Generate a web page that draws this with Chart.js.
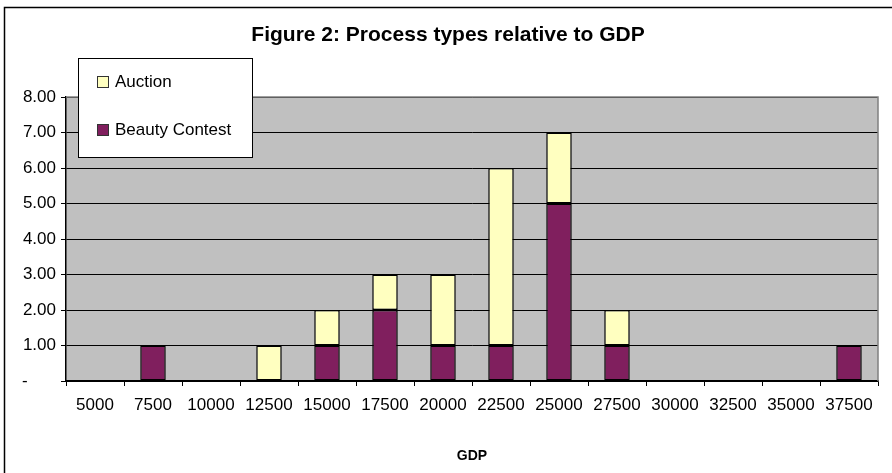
<!DOCTYPE html>
<html>
<head>
<meta charset="utf-8">
<script src="https://cdn.jsdelivr.net/npm/chart.js@4/dist/chart.umd.min.js"></script>
<style>
  html, body { margin: 0; padding: 0; background: #fff; }
  #wrap { width: 892px; height: 473px; position: relative; }
</style>
</head>
<body>
<div id="wrap"><canvas id="c" width="892" height="473"></canvas></div>
<script>
// GDP bands (category labels)
const gdpBands = ['5000', '7500', '10000', '12500', '15000', '17500', '20000',
                  '22500', '25000', '27500', '30000', '32500', '35000', '37500'];
// Number of processes of each type in every GDP band
const beautyContest = [0, 1, 0, 0, 1, 2, 1, 1, 5, 1, 0, 0, 0, 1];
const auction       = [0, 0, 0, 1, 1, 1, 2, 5, 2, 1, 0, 0, 0, 0];
// Value axis tick values
const yTicks = [0, 1, 2, 3, 4, 5, 6, 7, 8];

const chartTitle = 'Figure 2: Process types relative to GDP';
const FONT = '"Liberation Sans", Arial, sans-serif';

// Frame, plot background and title
const framePlugin = {
  id: 'frame',
  beforeDraw(chart) {
    const ctx = chart.ctx, a = chart.chartArea;
    ctx.save();
    ctx.fillStyle = '#ffffff';
    ctx.fillRect(0, 0, chart.width, chart.height);
    ctx.strokeStyle = '#000';
    ctx.lineWidth = 1.5;
    ctx.strokeRect(4.5, 7.5, chart.width + 20, chart.height + 20);
    ctx.fillStyle = '#c0c0c0';
    ctx.fillRect(a.left, a.top, a.right - a.left, a.bottom - a.top);
    ctx.fillStyle = '#000';
    ctx.font = 'bold 21px ' + FONT;
    ctx.textAlign = 'center';
    ctx.textBaseline = 'middle';
    ctx.fillText(chartTitle, 448, 35);
    ctx.restore();
  },
  afterDatasetsDraw(chart) {
    const ctx = chart.ctx, a = chart.chartArea;
    ctx.save();
    ctx.strokeStyle = '#808080';
    ctx.lineWidth = 1.5;
    ctx.beginPath();
    ctx.moveTo(a.left, a.top);
    ctx.lineTo(a.right, a.top);
    ctx.lineTo(a.right, a.bottom);
    ctx.stroke();
    ctx.restore();
  }
};

// Boxed legend, top entry = top series of the stack
const boxLegend = {
  id: 'boxLegend',
  afterDraw(chart) {
    const ctx = chart.ctx;
    const x0 = 78, y0 = 58, w = 174, h = 99;
    ctx.save();
    ctx.fillStyle = '#fff';
    ctx.fillRect(x0, y0, w, h);
    ctx.strokeStyle = '#000';
    ctx.lineWidth = 1;
    ctx.strokeRect(x0 + 0.5, y0 + 0.5, w, h);
    const ds = chart.data.datasets.slice().reverse();
    ctx.font = '17px ' + FONT;
    ctx.textBaseline = 'middle';
    ctx.textAlign = 'left';
    ds.forEach((d, i) => {
      const cy = 82 + i * 48;
      ctx.fillStyle = d.backgroundColor;
      ctx.fillRect(98, cy - 5, 10, 10);
      ctx.strokeStyle = '#333';
      ctx.strokeRect(97.5, cy - 5.5, 11, 11);
      ctx.fillStyle = '#000';
      ctx.fillText(d.label, 115, cy);
    });
    ctx.restore();
  }
};

// empty segments get no outline
const segBorder = c => (c.raw ? 1.5 : 0);

new Chart(document.getElementById('c'), {
  type: 'bar',
  data: {
    labels: gdpBands,
    datasets: [
      {
        label: 'Beauty Contest',
        data: beautyContest,
        backgroundColor: '#801f5e',
        borderColor: '#000',
        borderWidth: segBorder,
        borderSkipped: false,
        categoryPercentage: 1.0,
        barPercentage: 0.44
      },
      {
        label: 'Auction',
        data: auction,
        backgroundColor: '#ffffc0',
        borderColor: '#000',
        borderWidth: segBorder,
        borderSkipped: false,
        categoryPercentage: 1.0,
        barPercentage: 0.44
      }
    ]
  },
  options: {
    responsive: false,
    animation: false,
    events: [],
    layout: { padding: { top: 97, right: 14, left: 0, bottom: 0 } },
    plugins: {
      legend: { display: false },
      title: { display: false },
      tooltip: { enabled: false }
    },
    scales: {
      x: {
        stacked: true,
        grid: {
          display: true,
          offset: true,
          drawOnChartArea: false,
          drawTicks: true,
          tickLength: 5,
          color: '#000',
          lineWidth: 1
        },
        border: { display: true, color: '#000', width: 1.5 },
        ticks: {
          color: '#000',
          font: { family: FONT, size: 17 },
          padding: 9,
          maxRotation: 0,
          autoSkip: false
        },
        title: {
          display: true,
          text: 'GDP',
          color: '#000',
          font: { family: FONT, size: 14, weight: 'bold' },
          padding: { top: 0, bottom: 8 }
        },
        afterFit(s) { s.height = 92; }
      },
      y: {
        stacked: true,
        min: yTicks[0],
        max: yTicks[yTicks.length - 1],
        afterBuildTicks(s) { s.ticks = yTicks.map(v => ({ value: v })); },
        grid: {
          color: '#000',
          lineWidth: 1,
          drawTicks: true,
          tickLength: 5
        },
        border: { display: true, color: '#000', width: 1.5 },
        ticks: {
          color: '#000',
          font: { family: FONT, size: 17 },
          padding: 5,
          callback(v) { return v === 0 ? '-      ' : Number(v).toFixed(2); }
        },
        afterFit(s) { s.width = 66; }
      }
    }
  },
  plugins: [framePlugin, boxLegend]
});
</script>
</body>
</html>
